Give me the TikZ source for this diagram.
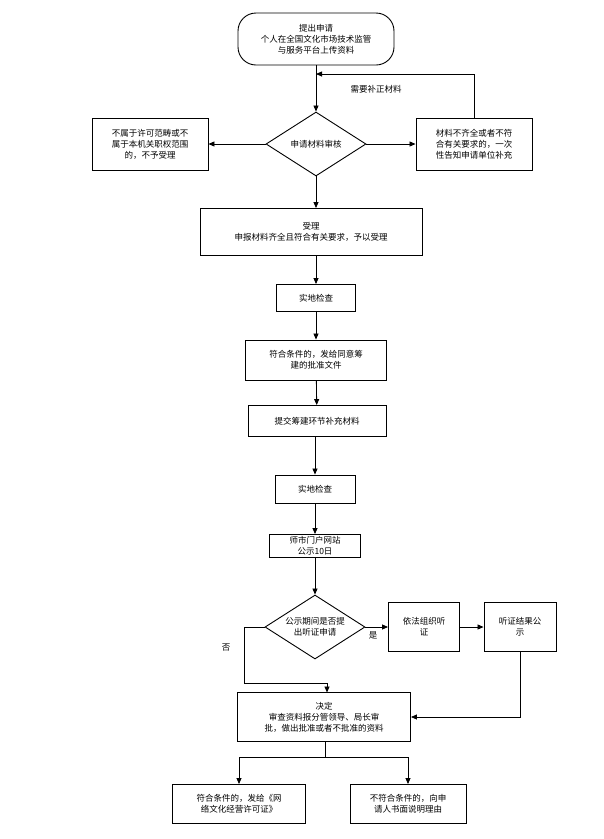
\documentclass[tikz,border=0pt]{standalone}
\usepackage{fontspec}
\setmainfont{Noto Sans CJK SC}
\usetikzlibrary{shapes.geometric,arrows.meta}
\begin{document}
\begin{tikzpicture}[x=1pt,y=-1pt,
  box/.style={draw,line width=0.9pt,minimum width=#1,inner sep=1pt,align=center,font=\fontsize{8.5}{11}\selectfont},
  dia/.style={draw,line width=0.9pt,diamond,aspect=1.55,minimum width=100pt,minimum height=64pt,inner sep=0pt,align=center,font=\fontsize{8.5}{11}\selectfont},
  arr/.style={-{Triangle[length=6pt,width=5pt]},line width=0.8pt},
  lab/.style={font=\fontsize{8.5}{11}\selectfont}]
\useasboundingbox (0,0) rectangle (604,839);
\node[box=156pt,minimum height=52pt,rounded corners=18pt] (start) at (316,39) {提出申请\\个人在全国文化市场技术监管\\与服务平台上传资料};
\node[dia] (d1) at (316,144) {申请材料审核};
\node[box=116pt,minimum height=52pt] (l1) at (150,144) {不属于许可范畴或不\\属于本机关职权范围\\的，不予受理};
\node[box=116pt,minimum height=52pt] (r1) at (474,144) {材料不齐全或者不符\\合有关要求的，一次\\性告知申请单位补充};
\node[box=222pt,minimum height=47pt] (acc) at (311,232) {受理\\申报材料齐全且符合有关要求，予以受理};
\node[box=79pt,minimum height=27pt] (c1) at (316,298) {实地检查};
\node[box=141pt,minimum height=40pt] (ok1) at (316,360) {符合条件的，发给同意筹\\建的批准文件};
\node[box=138pt,minimum height=31pt] (sub) at (317,421) {提交筹建环节补充材料};
\node[box=80pt,minimum height=28pt] (c2) at (315,489) {实地检查};
\node[box=91pt,minimum height=23pt] (web) at (315,546) {师市门户网站\\公示10日};
\node[dia] (d2) at (315,627) {公示期间是否提\\出听证申请};
\node[box=71pt,minimum height=49pt] (h1) at (424,627) {依法组织听\\证};
\node[box=72pt,minimum height=49pt] (h2) at (520,627) {听证结果公\\示};
\node[box=173pt,minimum height=49pt] (dec) at (324,717) {决定\\审查资料报分管领导、局长审\\批，做出批准或者不批准的资料};
\node[box=133pt,minimum height=39pt] (b1) at (239,804) {符合条件的，发给《网\\络文化经营许可证》};
\node[box=116pt,minimum height=39pt] (b2) at (408,804) {不符合条件的，向申\\请人书面说明理由};
\coordinate (fb) at (316,74);
\draw[arr] (start) -- (d1);
\draw[arr] (r1.north) |- (fb);
\node[lab] at (376,89) {需要补正材料};
\draw[arr] (d1) -- (l1);
\draw[arr] (d1) -- (r1);
\draw[arr] (d1) -- (d1|-acc.north);
\draw[arr] (c1|-acc.south) -- (c1);
\draw[arr] (c1) -- (ok1);
\draw[arr] (ok1) -- (sub);
\draw[arr] (c2|-sub.south) -- (c2);
\draw[arr] (c2) -- (web);
\draw[arr] (web) -- (d2);
\draw[arr] (d2) -- (h1);
\node[lab] at (373,635) {是};
\draw[arr] (h1) -- (h2);
\draw[arr] (h2.south) |- (dec.east);
\coordinate (no) at (244,683);
\draw[arr] (d2.west) -| (no) -- (327,683) -- (327,692.5);
\node[lab] at (226,648) {否};
\coordinate (sp) at (325,757);
\draw[line width=0.8pt] (dec.south-|sp) -- (sp);
\draw[arr] (sp) -| (b1.north);
\draw[arr] (sp) -| (b2.north);
\end{tikzpicture}
\end{document}
